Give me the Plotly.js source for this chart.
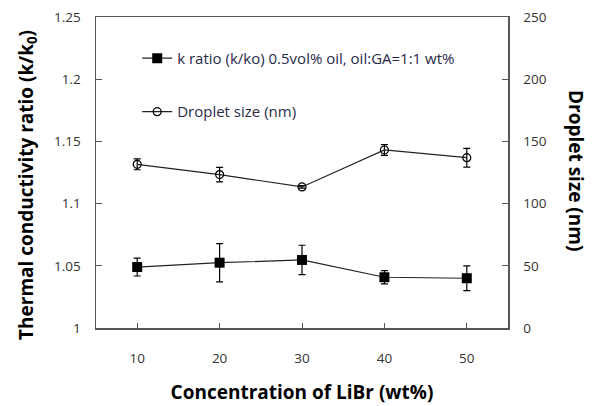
<!DOCTYPE html>
<html><head><meta charset="utf-8">
<script src="https://cdn.plot.ly/plotly-3.0.1.min.js"></script>
<style>body{margin:0;background:#fff}#c{width:596px;height:406px}</style>
</head><body><div id="c"></div>
<script>
const libr = [10, 20, 30, 40, 50];
const kRatio = [1.049, 1.0525, 1.0547, 1.0408, 1.040];
const kErr = [0.0072, 0.0154, 0.0118, 0.0054, 0.010];
const droplet = [131.6, 123.3, 113.4, 143.1, 136.9];
const dropErr = [4.4, 5.9, 1.0, 4.3, 7.5];
const xTicks = [10, 20, 30, 40, 50];
const yTicks = [1, 1.05, 1.1, 1.15, 1.2, 1.25];
const yTickText = ['1', '1.05', '1.1', '1.15', '1.2', '1.25'];
const y2Ticks = [0, 50, 100, 150, 200, 250];

const font = 'Open Sans, Noto Sans, sans-serif';
const traces = [
  {x: libr, y: kRatio, name: 'k ratio (k/ko) 0.5vol% oil, oil:GA=1:1 wt%', legendgroup: 'a',
   mode: 'lines+markers', type: 'scatter',
   line: {color: '#222', width: 1.2},
   marker: {symbol: 'square', size: 10, color: '#000'},
   error_y: {type: 'data', array: kErr, visible: true, color: '#000', thickness: 1.2, width: 3.5}},
  {x: libr, y: droplet, name: 'Droplet size (nm)', legendgroup: 'b', yaxis: 'y2',
   mode: 'lines+markers', type: 'scatter',
   line: {color: '#222', width: 1.2},
   marker: {symbol: 'circle-open', size: 8, color: '#000', line: {width: 1.2, color: '#000'}},
   error_y: {type: 'data', array: dropErr, visible: true, color: '#000', thickness: 1.2, width: 3.5}}
];
const layout = {
  width: 596, height: 406,
  margin: {l: 96, r: 88, t: 17, b: 78},
  paper_bgcolor: '#fff', plot_bgcolor: '#fff',
  font: {family: font, color: '#333', size: 13},
  showlegend: true,
  legend: {x: 0.1, y: 0.92, xanchor: 'left', yanchor: 'top', bgcolor: 'rgba(0,0,0,0)',
           font: {size: 15, color: '#2a2a4a', family: font}, traceorder: 'grouped', tracegroupgap: 31},
  xaxis: {range: [5, 55], tickvals: xTicks, showline: true, linecolor: '#555', linewidth: 1.5,
          mirror: true, ticks: 'inside', ticklen: 5, tickcolor: '#555', showgrid: false, zeroline: false,
          ticklabelstandoff: 17, tickfont: {size: 13.5, color: '#333'},
          title: {text: 'Concentration of LiBr (wt%)', font: {size: 19, color: '#000', family: font, weight: 'bold'}, standoff: 20}},
  yaxis: {range: [1, 1.25], tickvals: yTicks, ticktext: yTickText, showline: true, linecolor: '#555', linewidth: 1.5,
          ticks: 'inside', ticklen: 6, tickcolor: '#555', showgrid: false, zeroline: false,
          ticklabelstandoff: 11, tickfont: {size: 13.5, color: '#333'}},
  yaxis2: {range: [0, 250], tickvals: y2Ticks, overlaying: 'y', side: 'right', showline: true, linecolor: '#555', linewidth: 1.5,
          ticks: 'inside', ticklen: 6, tickcolor: '#555', showgrid: false, zeroline: false,
          ticklabelstandoff: 11, tickfont: {size: 13.5, color: '#333'}},
  annotations: [
    {xref: 'paper', yref: 'paper', x: -0.1675, y: 0.46, xanchor: 'center', yanchor: 'middle',
     text: 'Thermal conductivity ratio (k/k<sub>0</sub>)',
     textangle: -90, showarrow: false, font: {size: 19, color: '#000', family: font, weight: 'bold'}},
    {xref: 'paper', yref: 'paper', x: 1.165, y: 0.505, xanchor: 'center', yanchor: 'middle',
     text: 'Droplet size (nm)',
     textangle: 90, showarrow: false, font: {size: 19, color: '#000', family: font, weight: 'bold'}}
  ]
};
Plotly.newPlot('c', traces, layout, {displayModeBar: false, staticPlot: true});
</script></body></html>
